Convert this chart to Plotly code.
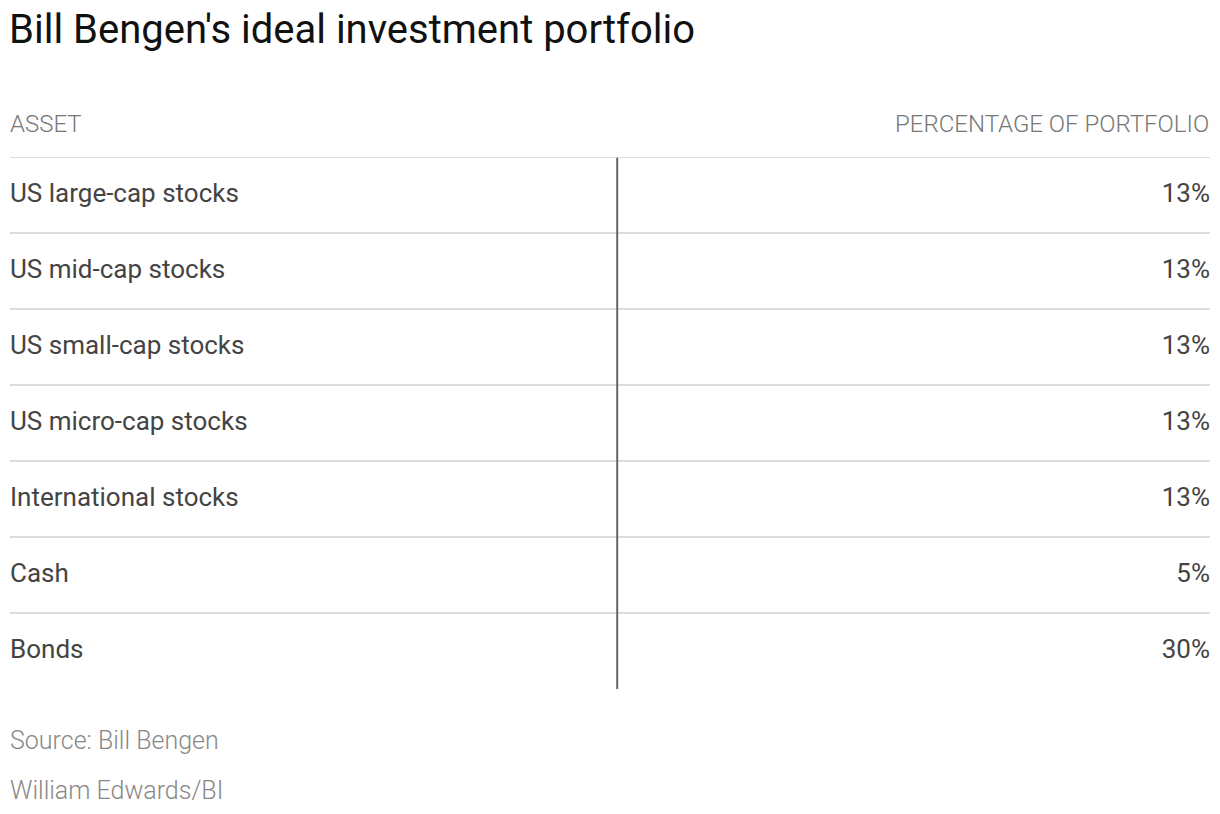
import plotly.graph_objects as go

# table contents
assets = ["US large-cap stocks", "US mid-cap stocks", "US small-cap stocks",
          "US micro-cap stocks", "International stocks", "Cash", "Bonds"]
shares = [13, 13, 13, 13, 13, 5, 30]
headers = ["ASSET", "PERCENTAGE OF PORTFOLIO"]

rows = list(range(len(assets)))
labels = [str(s) + "%" for s in shares]

FONT = "Roboto"
TXT = "#444444"
GREY = "#777777"

fig = go.Figure()

# left column: asset names
fig.add_trace(go.Scatter(
    x=[0] * len(assets), y=rows, text=assets,
    mode="text", textposition="middle right",
    textfont=dict(family=FONT, size=26, color=TXT),
    hoverinfo="skip", showlegend=False, cliponaxis=False))

# right column: percentages
fig.add_trace(go.Scatter(
    x=[1] * len(labels), y=rows, text=labels,
    mode="text", textposition="middle left",
    textfont=dict(family=FONT, size=26, color=TXT),
    hoverinfo="skip", showlegend=False, cliponaxis=False))

# horizontal rules above each row
for r in rows:
    fig.add_shape(type="line", xref="paper", yref="y",
                  x0=0, x1=1, y0=r - 0.5, y1=r - 0.5,
                  line=dict(color="#dedede", width=2))

# column divider
fig.add_shape(type="line", xref="x", yref="y",
              x0=0.506, x1=0.506, y0=-0.49, y1=len(assets) - 0.5,
              line=dict(color="#5f6a6b", width=2))

# column headers
fig.add_annotation(text=headers[0], xref="paper", yref="paper", x=0, y=1.062,
                   xanchor="left", yanchor="middle", showarrow=False, xshift=-2,
                   font=dict(family=FONT, size=24, color=GREY, weight=300))
fig.add_annotation(text=headers[1], xref="paper", yref="paper", x=1, y=1.062,
                   xanchor="right", yanchor="middle", showarrow=False, xshift=1,
                   font=dict(family=FONT, size=24, color=GREY, weight=300))

# footer
fig.add_annotation(text="Source: Bill Bengen", xref="paper", yref="paper",
                   x=0, y=-0.096, xanchor="left", yanchor="middle", showarrow=False,
                   xshift=-2, font=dict(family=FONT, size=25, color="#888888", weight=300))
fig.add_annotation(text="William Edwards/BI", xref="paper", yref="paper",
                   x=0, y=-0.19, xanchor="left", yanchor="middle", showarrow=False,
                   xshift=-2, font=dict(family=FONT, size=25, color="#888888", weight=300))

fig.update_xaxes(range=[0, 1], visible=False, fixedrange=True)
fig.update_yaxes(range=[len(assets) - 0.5, -0.5], visible=False, fixedrange=True)

fig.update_layout(
    width=1220, height=814,
    margin=dict(l=10, r=10, t=157, b=125),
    paper_bgcolor="white", plot_bgcolor="white",
    title=dict(text="Bill Bengen's ideal investment portfolio",
               x=9 / 1220, xanchor="left", y=1 - 29 / 814, yanchor="middle",
               font=dict(family=FONT, size=40, color="#111111")),
)

fig.write_html("out.html", config={"displayModeBar": False},
               post_script="document.body.style.margin='0';")
